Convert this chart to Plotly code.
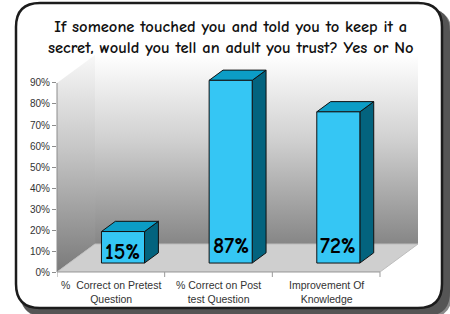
import plotly.graph_objects as go

# ---------------- data ----------------
categories = ["%\u00a0 Correct on Pretest<br>Question",
              "% Correct on Post<br>test Question",
              "Improvement Of<br>Knowledge"]
values = [15, 87, 72]
value_labels = ["15%", "87%", "72%"]
y_ticks = [0, 10, 20, 30, 40, 50, 60, 70, 80, 90]
y_tick_labels = ["0%", "10%", "20%", "30%", "40%", "50%", "60%", "70%", "80%", "90%"]
title_lines = ["If someone touched you and told you to keep it a",
               "secret, would you tell an adult you trust? Yes or No"]

# ---------------- layout / style constants ----------------
W, H = 450, 314
L, T, R, B = 57, 55, 32, 42
PW, PH = W - L - R, H - T - B
AXIS_MAX = 90
DEPTH_X = 0.353      # depth of the 3D box in category units
DEPTH_Y = 13.33      # depth of the 3D box in percent units
BAR_W = 0.4
BAR_POS = 0.32       # fraction of depth where the bar front sits
BAR_DEPTH = 0.365    # bar depth as fraction of box depth
FRONT = "#35C6F4"
TOP = "#0C9DC6"
SIDE = "#03637E"
EDGE = "#111111"
TITLE_FONT = "Comic Sans MS, Comic Neue, DejaVu Sans"
LABEL_FONT = "Liberation Sans, Arial, sans-serif"


def px2x(px):
    return (px - L) / PW


def py2y(py):
    return (T + PH - py) / PH


def rounded_rect(x0, y0, x1, y1, r):
    pts = [
        f"M {px2x(x0 + r)},{py2y(y0)}",
        f"L {px2x(x1 - r)},{py2y(y0)}",
        f"Q {px2x(x1)},{py2y(y0)} {px2x(x1)},{py2y(y0 + r)}",
        f"L {px2x(x1)},{py2y(y1 - r)}",
        f"Q {px2x(x1)},{py2y(y1)} {px2x(x1 - r)},{py2y(y1)}",
        f"L {px2x(x0 + r)},{py2y(y1)}",
        f"Q {px2x(x0)},{py2y(y1)} {px2x(x0)},{py2y(y1 - r)}",
        f"L {px2x(x0)},{py2y(y0 + r)}",
        f"Q {px2x(x0)},{py2y(y0)} {px2x(x0 + r)},{py2y(y0)}",
        "Z",
    ]
    return " ".join(pts)


fig = go.Figure()

x_left, x_right = -0.5, len(categories) - 0.5


def poly(xs, ys, **kw):
    fig.add_trace(go.Scatter(x=xs + [xs[0]], y=ys + [ys[0]], mode="lines",
                             fill="toself", hoverinfo="skip", showlegend=False, **kw))


# back wall
poly([x_left + DEPTH_X, x_right + DEPTH_X, x_right + DEPTH_X, x_left + DEPTH_X],
     [DEPTH_Y, DEPTH_Y, AXIS_MAX + DEPTH_Y, AXIS_MAX + DEPTH_Y],
     line=dict(width=0),
     fillgradient=dict(type="vertical", colorscale=[[0, "#868686"], [0.55, "#d0d0d0"], [1, "#ffffff"]]))
# left wall
poly([x_left, x_left + DEPTH_X, x_left + DEPTH_X, x_left],
     [0, DEPTH_Y, AXIS_MAX + DEPTH_Y, AXIS_MAX],
     line=dict(width=0),
     fillgradient=dict(type="vertical", colorscale=[[0, "#7a7a7a"], [0.55, "#c4c4c4"], [1, "#f8f8f8"]]))
# floor
poly([x_left, x_right, x_right + DEPTH_X, x_left + DEPTH_X],
     [0, 0, DEPTH_Y, DEPTH_Y],
     line=dict(width=1, color="#bdbdbd"), fillcolor="#cfcfcf")

# bars
bdx, bdy = BAR_DEPTH * DEPTH_X, BAR_DEPTH * DEPTH_Y
base = BAR_POS * DEPTH_Y
for i, v in enumerate(values):
    cx = i + BAR_POS * DEPTH_X
    xl, xr = cx - BAR_W / 2, cx + BAR_W / 2
    top = base + v
    # side face
    poly([xr, xr + bdx, xr + bdx, xr], [base, base + bdy, top + bdy, top],
         line=dict(width=1, color=EDGE), fillcolor=SIDE)
    # top face
    poly([xl, xr, xr + bdx, xl + bdx], [top, top, top + bdy, top + bdy],
         line=dict(width=1, color=EDGE), fillcolor=TOP)
    # front face
    poly([xl, xr, xr, xl], [base, base, top, top],
         line=dict(width=1, color=EDGE), fillcolor=FRONT)
    fig.add_annotation(x=cx, y=base + min(0.35 * v, 8.1), xref="x", yref="y",
                       text=value_labels[i], showarrow=False, yanchor="middle",
                       font=dict(family=TITLE_FONT, size=22, color="#000000", weight="bold"))

# category labels
for i, c in enumerate(categories):
    fig.add_annotation(x=i, y=0, xref="x", yref="paper", yanchor="top", yshift=-5,
                       text=c, showarrow=False,
                       font=dict(family=LABEL_FONT, size=10.5, color="#333333"))

# title
fig.add_annotation(x=px2x(231), y=py2y(14.5), xref="paper", yref="paper",
                   xanchor="center", yanchor="top", showarrow=False,
                   text="<br>".join(title_lines),
                   font=dict(family=TITLE_FONT, size=16.5, color="#111111", weight="bold"))

shapes = [
    # drop shadow
    dict(type="path", xref="paper", yref="paper", layer="below",
         path=rounded_rect(22, 10, 452, 318, 24), fillcolor="#8a8a8a", line=dict(width=0)),
    dict(type="path", xref="paper", yref="paper", layer="below",
         path=rounded_rect(20, 8, 450, 316, 24), fillcolor="#555555", line=dict(width=0)),
    # frame
    dict(type="path", xref="paper", yref="paper", layer="below",
         path=rounded_rect(16, 3, 442, 308, 24), fillcolor="#ffffff",
         line=dict(width=2.5, color="#1c1c1c")),
    # y axis line
    dict(type="line", xref="paper", yref="y", x0=0, x1=0, y0=0, y1=AXIS_MAX,
         line=dict(width=1, color="#8c8c8c"), layer="above"),
    # front floor edge
    dict(type="line", xref="x", yref="paper", x0=x_left, x1=x_right, y0=0, y1=0,
         line=dict(width=1, color="#9a9a9a"), layer="above"),
]
for k in range(len(categories) + 1):
    shapes.append(dict(type="line", xref="x", yref="paper", x0=x_left + k, x1=x_left + k,
                       y0=0, y1=-5 / PH, line=dict(width=1, color="#9a9a9a"), layer="above"))

fig.update_layout(
    width=W, height=H,
    margin=dict(l=L, r=R, t=T, b=B),
    paper_bgcolor="#ffffff", plot_bgcolor="rgba(0,0,0,0)",
    showlegend=False,
    shapes=shapes,
    xaxis=dict(range=[x_left, x_right + DEPTH_X], visible=False, fixedrange=True),
    yaxis=dict(range=[0, AXIS_MAX + DEPTH_Y], tickvals=y_ticks, ticktext=y_tick_labels,
               ticks="outside", ticklen=4, tickcolor="#8c8c8c", showline=False,
               showgrid=False, zeroline=False, fixedrange=True,
               tickfont=dict(family=LABEL_FONT, size=10, color="#333333")),
)

fig.write_html("out.html", config={"displayModeBar": False},
               post_script="document.body.style.margin='0';document.body.style.overflow='hidden';")
